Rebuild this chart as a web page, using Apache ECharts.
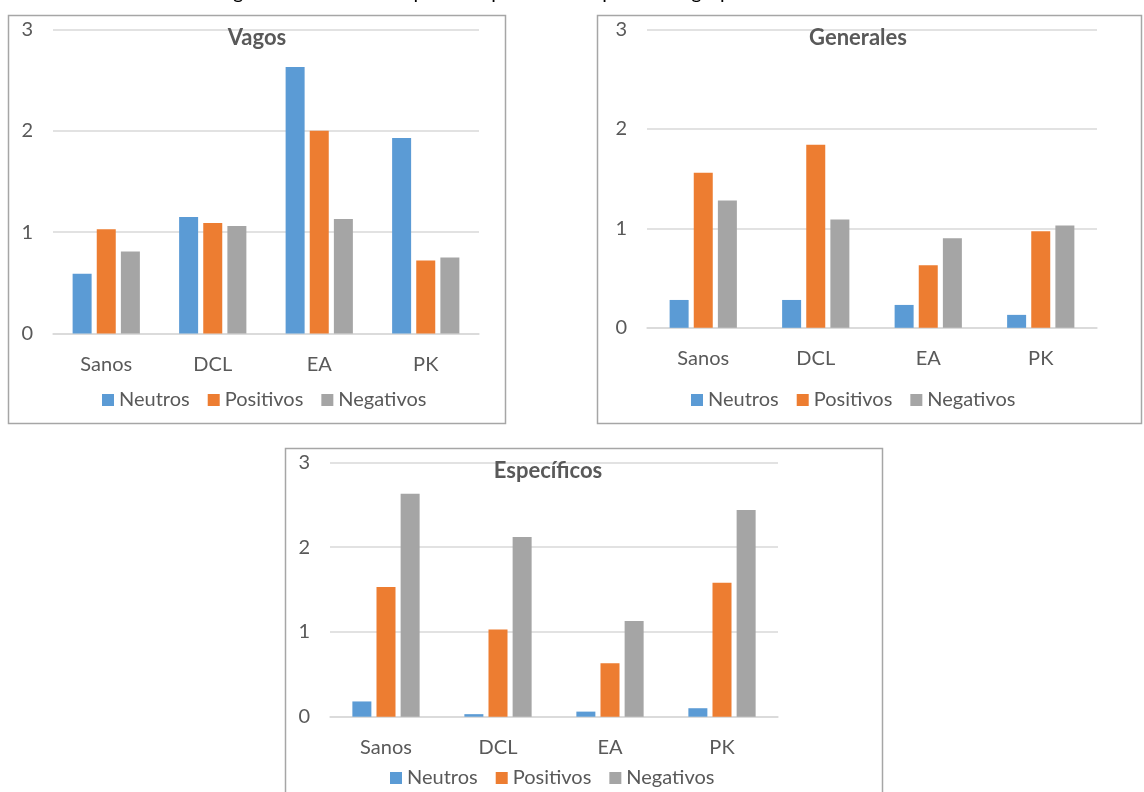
<!DOCTYPE html>
<html>
<head>
<meta charset="utf-8">
<title>Valencia por grupo</title>
<script src="https://cdn.jsdelivr.net/npm/echarts@6/dist/echarts.min.js"></script>
<style>
  html, body { margin: 0; padding: 0; background: #ffffff; }
  #chart { width: 1144px; height: 792px; }
</style>
</head>
<body>
<div id="chart"></div>
<script>
// Groups on the x axis and the three response types
const categories = ['Sanos', 'DCL', 'EA', 'PK'];
const seriesNames = ['Neutros', 'Positivos', 'Negativos'];
const yTicks = [0, 1, 2, 3];

// Vagos
const vagosNeutros   = [0.59, 1.15, 2.63, 1.93];
const vagosPositivos = [1.03, 1.09, 2.00, 0.72];
const vagosNegativos = [0.81, 1.06, 1.13, 0.75];

// Generales
const generalesNeutros   = [0.28, 0.28, 0.23, 0.13];
const generalesPositivos = [1.56, 1.84, 0.63, 0.97];
const generalesNegativos = [1.28, 1.09, 0.90, 1.03];

// Específicos
const especificosNeutros   = [0.18, 0.03, 0.06, 0.10];
const especificosPositivos = [1.53, 1.03, 0.63, 1.58];
const especificosNegativos = [2.63, 2.12, 1.13, 2.44];

const panelTitles = ['Vagos', 'Generales', 'Específicos'];
const caption = 'Figura 30: Número de palabras por valencia para cada grupo en función de la tarea';

const colors = ['#5B9BD5', '#ED7D31', '#A5A5A5'];
const textColor = '#595959';
const fontFamily = 'Lato, "Liberation Sans", sans-serif';

const panels = [
  { title: panelTitles[0], data: [vagosNeutros, vagosPositivos, vagosNegativos],
    grid: { left: 53, top: 29.5, width: 426, height: 304 },
    titlePos: [257, 38], legendPos: [102, 390],
    box: [8.5, 15.5, 497, 408] },
  { title: panelTitles[1], data: [generalesNeutros, generalesPositivos, generalesNegativos],
    grid: { left: 647, top: 29.5, width: 450, height: 298.3 },
    titlePos: [858, 38], legendPos: [691, 390],
    box: [597.5, 15.5, 544, 408] },
  { title: panelTitles[2], data: [especificosNeutros, especificosPositivos, especificosNegativos],
    grid: { left: 330, top: 462.5, width: 448, height: 254.2 },
    titlePos: [548, 471], legendPos: [390, 768],
    box: [285.5, 448.5, 597, 360] }
];

const chart = echarts.init(document.getElementById('chart'), null, { renderer: 'canvas' });

const grids = [], xAxes = [], yAxes = [], series = [], legends = [], graphics = [];

panels.forEach((p, i) => {
  grids.push(Object.assign({ containLabel: false }, p.grid));
  xAxes.push({
    type: 'category', gridIndex: i, data: categories,
    axisLine: { lineStyle: { color: '#D9D9D9', width: 1.5 } },
    axisTick: { show: false },
    axisLabel: { color: textColor, fontSize: 20, fontFamily: fontFamily, margin: 21 }
  });
  yAxes.push({
    type: 'value', gridIndex: i, min: yTicks[0], max: yTicks[yTicks.length - 1], interval: 1,
    axisLine: { show: false }, axisTick: { show: false },
    splitLine: { lineStyle: { color: '#D9D9D9', width: 1.5 } },
    axisLabel: { color: textColor, fontSize: 20, fontFamily: fontFamily, margin: 20 }
  });
  p.data.forEach((vals, k) => {
    series.push({
      name: seriesNames[k], type: 'bar', xAxisIndex: i, yAxisIndex: i,
      data: vals, barWidth: 19, barGap: '27%',
      itemStyle: { color: colors[k] },
      emphasis: { disabled: true }
    });
  });
  legends.push({
    data: seriesNames, left: p.legendPos[0], top: p.legendPos[1], padding: 0,
    icon: 'rect', itemWidth: 12, itemHeight: 12, itemGap: 18,
    textStyle: { color: textColor, fontSize: 20, fontFamily: fontFamily },
    selectedMode: false
  });
  graphics.push({
    type: 'rect', z: -1, silent: true,
    shape: { x: p.box[0], y: p.box[1], width: p.box[2], height: p.box[3] },
    style: { fill: '#ffffff', stroke: '#A6A6A6', lineWidth: 1.5 }
  });
  graphics.push({
    type: 'text', z: 100, silent: true, x: p.titlePos[0], y: p.titlePos[1],
    style: { text: p.title, fill: textColor, font: 'bold 22px ' + fontFamily,
             align: 'center', verticalAlign: 'middle' }
  });
});

// Figure caption, running off the top edge of the page
graphics.push({
  type: 'text', silent: true, x: 577, y: 3,
  style: { text: caption, fill: '#000000', font: '20px ' + fontFamily,
           align: 'center', verticalAlign: 'bottom' }
});

chart.setOption({
  animation: false,
  backgroundColor: '#ffffff',
  grid: grids,
  xAxis: xAxes,
  yAxis: yAxes,
  legend: legends,
  series: series,
  graphic: graphics
});
</script>
</body>
</html>
